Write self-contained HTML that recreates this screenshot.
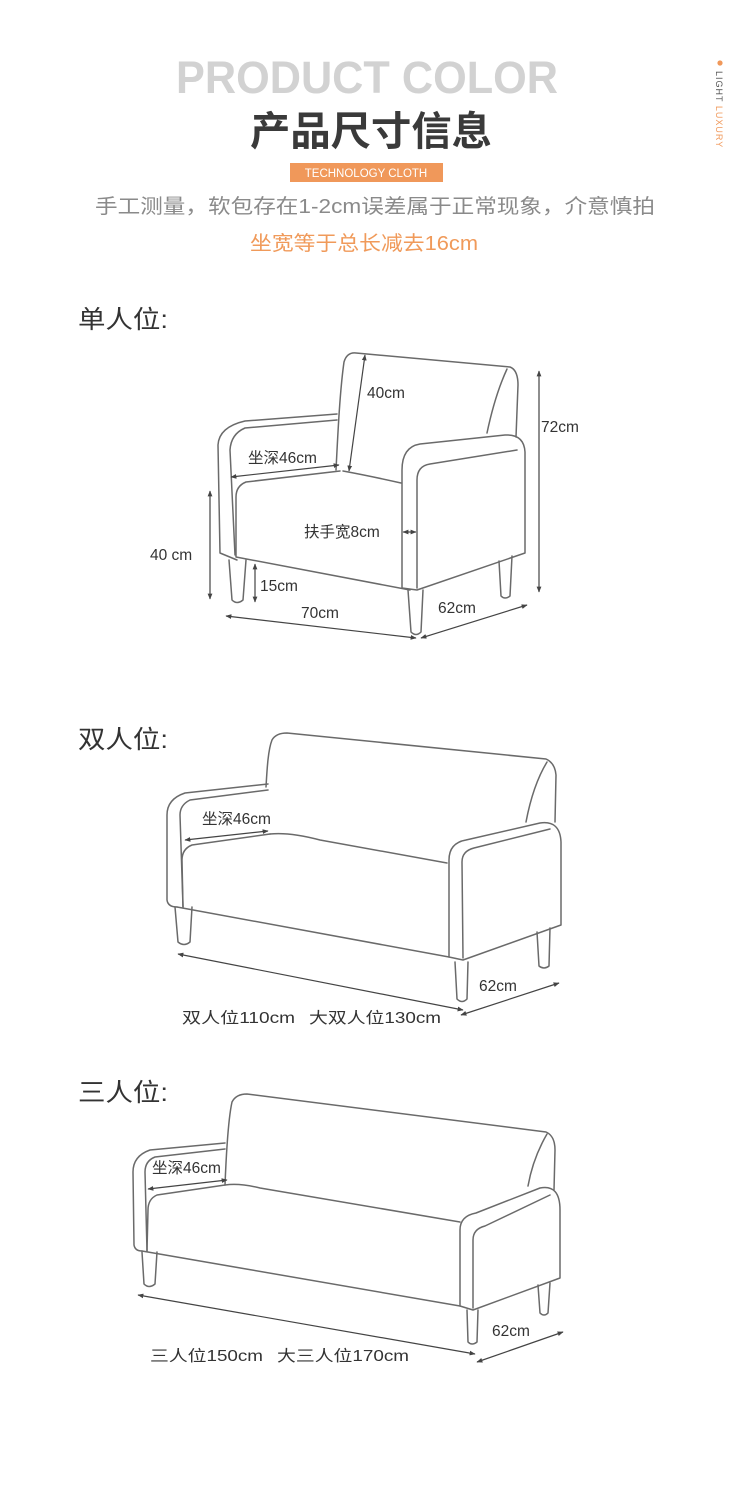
<!DOCTYPE html>
<html><head><meta charset="utf-8"><style>
html,body{margin:0;padding:0;background:#fff;width:737px;height:1500px;overflow:hidden}
svg{display:block}
text{font-family:"Liberation Sans","Noto Sans CJK SC",sans-serif}
</style></head><body>
<svg width="737" height="1500" viewBox="0 0 737 1500" xmlns="http://www.w3.org/2000/svg">
<defs>
<marker id="a" viewBox="0 0 10 10" refX="9" refY="5" markerWidth="5" markerHeight="5" orient="auto-start-reverse"><path d="M0,1 L10,5 L0,9 z" fill="#444"/></marker>
</defs>
<!-- header -->
<text x="176" y="93" font-size="45" font-weight="bold" fill="#d2d2d2" textLength="382" lengthAdjust="spacingAndGlyphs">PRODUCT COLOR</text>
<text x="250" y="145" font-size="40" font-weight="bold" fill="#3a3a3a" textLength="242" lengthAdjust="spacingAndGlyphs">产品尺寸信息</text>
<rect x="290" y="163" width="153" height="19" fill="#f0985a"/>
<text x="366" y="177" text-anchor="middle" font-size="11.5" fill="#fff">TECHNOLOGY CLOTH</text>
<text x="95" y="213" font-size="20" fill="#8a8a8a" textLength="560" lengthAdjust="spacingAndGlyphs">手工测量，软包存在1-2cm误差属于正常现象，介意慎拍</text>
<text x="250" y="250" font-size="20" fill="#f09a5a" textLength="228" lengthAdjust="spacingAndGlyphs">坐宽等于总长减去16cm</text>
<circle cx="720" cy="63" r="2.6" fill="#f0985a"/>
<text transform="translate(716,71) rotate(90)" font-size="9" fill="#555" letter-spacing="1">LIGHT <tspan fill="#f0985a">LUXURY</tspan></text>

<!-- section titles -->
<text x="78" y="328" font-size="25" fill="#333" textLength="90" lengthAdjust="spacingAndGlyphs">单人位:</text>
<text x="78" y="748" font-size="25" fill="#333" textLength="90" lengthAdjust="spacingAndGlyphs">双人位:</text>
<text x="78" y="1101" font-size="25" fill="#333" textLength="90" lengthAdjust="spacingAndGlyphs">三人位:</text>

<g fill="none" stroke="#6a6a6a" stroke-width="1.5" stroke-linejoin="round" stroke-linecap="round">
<!-- single sofa -->
<path d="M336,470 C338,430 340,390 344,362 Q347,352 356,353 L510,367 Q518,370 518,385 L516,437"/>
<path d="M507,369 Q495,395 487,433"/>
<path d="M337,414 L245,421 Q219,427 218,445 L220,553 L237,560"/>
<path d="M337,420 L245,428 Q231,434 230,450 L235,555"/>
<path d="M340,471 L246,482 Q236,486 236,497 L236,557 L410,590"/>
<path d="M343,471 Q370,476 401,483"/>
<path d="M402,588 L402,470 Q402,447 420,444 L505,435 Q524,434 525,452 L525,553 L417,590 L402,588"/>
<path d="M417,588 L417,480 Q417,466 430,464 L517,450"/>
<path d="M229,560 L232,600 Q237,605 243,600 L246,560"/>
<path d="M408,590 L411,632 Q416,637 421,632 L423,590"/>
<path d="M499,561 L501,596 Q505,600 510,596 L512,556"/>
<!-- two-seat -->
<path d="M266,787 C267,770 268,750 272,740 Q276,733 287,733 L546,759 Q555,763 556,775 L555,822"/>
<path d="M547,762 Q533,785 526,822"/>
<path d="M268,784 L185,793 Q167,799 167,815 L167,900 Q168,907 177,907"/>
<path d="M268,790 L190,800 Q180,805 180,815 L183,907"/>
<path d="M270,834 L192,845 Q182,849 182,860 L183,907"/>
<path d="M270,834 Q290,832 320,840 L447,863"/>
<path d="M177,907 L449,957"/>
<path d="M449,957 L449,860 Q449,843 466,840 L540,823 Q560,820 561,842 L561,925 L463,960 L449,957"/>
<path d="M463,958 L462,862 Q462,851 474,848 L550,829"/>
<path d="M175,907 L178,942 Q184,947 190,942 L192,907"/>
<path d="M455,962 L457,999 Q462,1004 467,999 L468,962"/>
<path d="M537,932 L539,966 Q544,970 549,966 L550,928"/>
<!-- three-seat -->
<path d="M225,1185 C226,1160 228,1120 232,1102 Q236,1094 247,1094 L546,1132 Q555,1136 555,1150 L554,1190"/>
<path d="M547,1134 Q533,1158 528,1186"/>
<path d="M225,1143 L150,1150 Q133,1156 133,1172 L134,1245 Q135,1251 142,1251"/>
<path d="M225,1149 L155,1157 Q145,1161 145,1172 L147,1251"/>
<path d="M225,1185 L157,1195 Q148,1199 148,1210 L147,1251"/>
<path d="M225,1185 Q240,1183 260,1188 L460,1222"/>
<path d="M142,1251 L460,1306"/>
<path d="M460,1306 L460,1230 Q460,1216 476,1213 L540,1188 Q560,1184 560,1210 L560,1278 L473,1310 L460,1306"/>
<path d="M473,1308 L473,1240 Q473,1229 485,1226 L550,1195"/>
<path d="M142,1252 L144,1284 Q149,1289 155,1284 L157,1252"/>
<path d="M467,1310 L468,1342 Q472,1346 477,1342 L478,1310"/>
<path d="M538,1285 L540,1313 Q544,1317 548,1313 L550,1283"/>
</g>

<!-- dimension lines -->
<g stroke="#444" stroke-width="1.2" fill="none" marker-start="url(#a)" marker-end="url(#a)">
<line x1="539" y1="371" x2="539" y2="592"/>
<line x1="210" y1="491" x2="210" y2="599"/>
<line x1="255" y1="564" x2="255" y2="602"/>
<line x1="365" y1="355" x2="349" y2="471"/>
<line x1="231" y1="477" x2="339" y2="465"/>
<line x1="403" y1="532" x2="416" y2="532"/>
<line x1="226" y1="616" x2="416" y2="638"/>
<line x1="421" y1="638" x2="527" y2="605"/>
<line x1="185" y1="840" x2="268" y2="831"/>
<line x1="178" y1="954" x2="463" y2="1010"/>
<line x1="461" y1="1015" x2="559" y2="983"/>
<line x1="148" y1="1189" x2="227" y2="1180"/>
<line x1="138" y1="1295" x2="475" y2="1354"/>
<line x1="477" y1="1362" x2="563" y2="1332"/>
</g>

<g font-size="15.5" fill="#333">
<text x="367" y="398">40cm</text>
<text x="541" y="432">72cm</text>
<text x="248" y="463">坐深46cm</text>
<text x="304" y="537">扶手宽8cm</text>
<text x="150" y="560">40 cm</text>
<text x="260" y="591">15cm</text>
<text x="301" y="618">70cm</text>
<text x="438" y="613">62cm</text>
<text x="202" y="824">坐深46cm</text>
<text x="479" y="991">62cm</text>
<text x="182" y="1023" textLength="113" lengthAdjust="spacingAndGlyphs">双人位110cm</text>
<text x="309" y="1023" textLength="132" lengthAdjust="spacingAndGlyphs">大双人位130cm</text>
<text x="152" y="1173">坐深46cm</text>
<text x="492" y="1336">62cm</text>
<text x="150" y="1361" textLength="113" lengthAdjust="spacingAndGlyphs">三人位150cm</text>
<text x="277" y="1361" textLength="132" lengthAdjust="spacingAndGlyphs">大三人位170cm</text>
</g>
</svg>
</body></html>
